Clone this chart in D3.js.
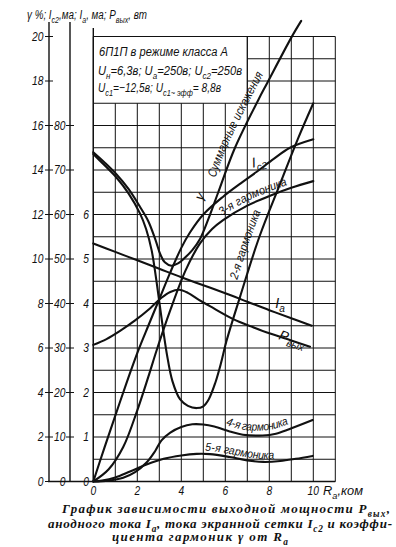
<!DOCTYPE html>
<html><head><meta charset="utf-8">
<script src="https://cdn.jsdelivr.net/npm/d3@7"></script>
<style>
body{margin:0;background:#fff;}
svg{display:block;background:#fff;}
.lab{font-family:"Liberation Sans","DejaVu Sans",sans-serif;font-style:italic;fill:#111;}
.cap{font-family:"Liberation Serif","DejaVu Serif",serif;font-style:italic;font-weight:bold;fill:#111;}
</style></head><body>
<svg id="c" width="396" height="547"></svg>
<script>
// ---------- data ----------
const rTicks = [0, 2, 4, 6, 8, 10];
const gammaTicks = [0, 2, 4, 6, 8, 10, 12, 14, 16, 18, 20];      // γ, %
const iaTicks = [0, 10, 20, 30, 40, 50, 60, 70, 80];             // Iа, ма
const pTicks = [0, 1, 2, 3, 4, 5, 6];                            // Iс2, ма ; Pвых, вт
const gridR = [0,1,2,3,4,5,6,7,8,9,10,11];
const gridG = [0,1,2,3,4,5,6,7,8,9,10,11,12,13,14,15,16,17,18,19,20];

// [Rа (ком), γ %]
const sumDistortion = [[0,14.8],[0.5,14.35],[1.06,13.8],[1.6,13.15],[2.12,12.35],[2.5,11.7],[2.83,10.85],[3.05,10.2],[3.25,9.85],[3.55,9.7],[3.85,9.8],[4.1,10.0],[4.5,10.4],[4.85,10.9],[5.25,11.85],[5.68,13.0],[6.44,15.0],[7.5,17.15],[7.9,17.9],[9.0,19.95],[9.45,20.7]];
const harm2 = [[0,14.72],[0.5,14.22],[1.06,13.65],[1.6,12.95],[2.12,12.05],[2.4,11.35],[2.65,10.4],[2.9,8.8],[3.1,7.35],[3.34,5.75],[3.6,4.5],[3.94,3.7],[4.3,3.4],[4.7,3.3],[5.0,3.38],[5.25,3.7],[5.55,4.45],[5.8,5.3],[6.05,6.3],[6.67,8.3],[7.55,11.0],[8.5,13.4],[9.3,15.4],[10,17.0]];
const harm3 = [[0,0],[0.7,0.55],[1.36,1.55],[2.0,3.2],[2.5,4.7],[2.88,5.9],[3.5,7.7],[4.2,9.5],[4.85,10.7],[5.4,11.35],[5.9,11.75],[7.0,12.4],[8.18,12.9],[9.0,13.2],[10,13.5]];
const harm4 = [[0,0],[0.7,0.04],[1.36,0.17],[1.9,0.42],[2.42,0.85],[2.8,1.35],[3.1,1.85],[3.5,2.2],[4.0,2.45],[4.5,2.57],[5.0,2.56],[5.5,2.47],[6.2,2.25],[6.8,2.1],[7.7,2.07],[8.3,2.15],[8.9,2.35],[9.97,2.76]];
const harm5 = [[0,0],[0.4,0.04],[1.0,0.18],[1.67,0.45],[2.42,0.76],[3.2,1.02],[4.0,1.17],[4.7,1.24],[5.3,1.23],[6.2,1.1],[7.0,0.95],[7.73,0.88],[8.5,0.92],[9.2,1.02],[9.97,1.15]];
// [Rа, Iс2 ма]
const ic2 = [[0,0],[0.5,0.75],[1,1.48],[1.5,2.2],[2.05,2.95],[2.5,3.5],[3,4.1],[3.5,4.7],[4,5.25],[4.4,5.6],[5,6.0],[5.9,6.4],[6.7,6.7],[7.43,6.96],[8.2,7.25],[8.94,7.5],[10,7.69]];
// [Rа, Iа ма]
const ia = [[0,53.5],[1,51.6],[2,49.7],[3,47.8],[4,45.9],[5,44.1],[6,42.3],[7,40.4],[8,38.5],[9,36.7],[9.93,35.0]];
// [Rа, Pвых вт]
const pOut = [[0,3.07],[0.6,3.2],[1.2,3.38],[1.9,3.62],[2.6,3.9],[3.1,4.13],[3.5,4.26],[3.9,4.31],[4.3,4.24],[4.8,4.08],[5.3,3.94],[6.36,3.65],[7.2,3.48],[8,3.33],[9,3.17],[9.85,3.03]];

// ---------- scales ----------
const svg = d3.select("#c");
const x = d3.scaleLinear().domain([0, 11]).range([93.3, 335.3]);
const yG = d3.scaleLinear().domain([0, 20]).range([481.5, 36.5]);
const yIa = d3.scaleLinear().domain([0, 100]).range([481.5, 36.5]);
const yP = d3.scaleLinear().domain([0, 10]).range([481.5, 36.5]);
const INK = "#111";

// ---------- grid ----------
const g = svg.append("g").attr("stroke", INK).attr("stroke-width", 1).attr("fill", "none");
gridR.forEach(r => {
  const top = (r > 0 && r < 7) ? 17 : 20;
  g.append("line").attr("x1", x(r)).attr("x2", x(r)).attr("y1", yG(0)).attr("y2", yG(top));
});
gridG.forEach(v => {
  const left = (v > 17 && v < 20) ? 7 : 0;
  g.append("line").attr("x1", x(left)).attr("x2", x(11)).attr("y1", yG(v)).attr("y2", yG(v));
});
g.append("line").attr("x1", x(7)).attr("x2", x(7)).attr("y1", yG(17)).attr("y2", yG(20));

// ---------- left axes ----------
const ax = svg.append("g").attr("stroke", INK).attr("stroke-width", 1.4);
ax.append("line").attr("x1", 49).attr("x2", 49).attr("y1", 22).attr("y2", yG(0));
ax.append("line").attr("x1", 70).attr("x2", 70).attr("y1", 22).attr("y2", yG(0));
ax.append("line").attr("x1", x(0)).attr("x2", x(0)).attr("y1", 28).attr("y2", yG(0));
ax.append("line").attr("x1", 48).attr("x2", x(11)).attr("y1", yG(0)).attr("y2", yG(0));
gammaTicks.forEach(v => {
  ax.append("line").attr("x1", 45).attr("x2", 53).attr("y1", yG(v)).attr("y2", yG(v)).attr("stroke-width", 1);
});
iaTicks.forEach(v => {
  ax.append("line").attr("x1", 66).attr("x2", 74).attr("y1", yIa(v)).attr("y2", yIa(v)).attr("stroke-width", 1);
});

const lab = svg.append("g").attr("class", "lab");
function condense(t, f) {
  const L = t.node().getComputedTextLength();
  t.attr("textLength", L * f).attr("lengthAdjust", "spacingAndGlyphs");
  return t;
}
function plain(xx, yy, txt, fs, anchor) {
  const t = lab.append("text").attr("x", xx).attr("y", yy).attr("font-size", fs).attr("text-anchor", anchor || "start").text(txt);
  return condense(t, 0.82);
}
gammaTicks.forEach(v => plain(43.5, yG(v) + 4.3, v, 12.5, "end"));
iaTicks.forEach(v => plain(65.5, yIa(v) + 4.3, v, 12.5, "end"));
pTicks.forEach(v => plain(89, yP(v) + 4.3, v, 12.5, "end"));
rTicks.forEach(v => plain(x(v), 495, v, 12.5, "middle"));

// rich text helper (subscripts)
function rich(parent, xx, yy, segs, fs, cls) {
  const t = parent.append("text").attr("x", xx).attr("y", yy).attr("font-size", fs);
  if (cls) t.attr("class", cls);
  let shift = 0;
  segs.forEach(s => {
    const sub = typeof s !== "string";
    const target = sub ? fs * 0.28 : 0;
    const ts = t.append("tspan").attr("font-size", sub ? fs * 0.72 : fs).text(sub ? s.sub : s);
    if (target !== shift) { ts.attr("dy", target - shift); shift = target; }
  });
  return t;
}

rich(lab, 323, 495, ["R", {sub: "а"}, ",ком"], 12.5).attr("textLength", 40).attr("lengthAdjust", "spacingAndGlyphs");
rich(lab, 27, 19, ["γ %; I", {sub: "с2"}, ",ма; I", {sub: "а"}, ", ма; P", {sub: "вых"}, ", вт"], 12.5).attr("textLength", 120).attr("lengthAdjust", "spacingAndGlyphs");

// legend text
rich(lab, 99, 56, ["6П1П в режиме класса А"], 12.5).attr("textLength", 129).attr("lengthAdjust", "spacingAndGlyphs");
rich(lab, 98, 75, ["U", {sub: "н"}, "=6,3в; U", {sub: "а"}, "=250в; U", {sub: "с2"}, "=250в"], 12.5).attr("textLength", 144).attr("lengthAdjust", "spacingAndGlyphs");
rich(lab, 98, 92, ["U", {sub: "с1"}, "=−12,5в; U", {sub: "с1~ эфф"}, "= 8,8в"], 12.5).attr("textLength", 123).attr("lengthAdjust", "spacingAndGlyphs");

// ---------- curves ----------
const lineG = d3.line().x(d => x(d[0])).y(d => yG(d[1])).curve(d3.curveCatmullRom.alpha(0.5));
const lineIa = d3.line().x(d => x(d[0])).y(d => yIa(d[1])).curve(d3.curveCatmullRom.alpha(0.5));
const lineP = d3.line().x(d => x(d[0])).y(d => yP(d[1])).curve(d3.curveCatmullRom.alpha(0.5));
const cg = svg.append("g").attr("fill", "none").attr("stroke", INK).attr("stroke-width", 2.1).attr("stroke-linecap", "round");
const series = [
  ["pSum", sumDistortion, lineG], ["pH2", harm2, lineG], ["pH3", harm3, lineG],
  ["pH4", harm4, lineG], ["pH5", harm5, lineG], ["pIc2", ic2, lineP],
  ["pIa", ia, lineIa], ["pP", pOut, lineP]
];
series.forEach(([id, d, ln]) => cg.append("path").attr("id", id).attr("d", ln(d)));

function offAtX(id, xt) {
  const n = document.getElementById(id);
  let lo = 0, hi = n.getTotalLength();
  for (let i = 0; i < 40; i++) { const m = (lo + hi) / 2; if (n.getPointAtLength(m).x < xt) lo = m; else hi = m; }
  return lo;
}
function onPath(id, xs, txt, fs, dy, len, tx, ty) {
  const t = lab.append("text").attr("font-size", fs).attr("dy", dy)
    .attr("transform", `translate(${tx || 0},${ty || 0})`);
  t.append("textPath").attr("href", "#" + id).attr("startOffset", offAtX(id, xs))
    .attr("textLength", len).attr("lengthAdjust", "spacingAndGlyphs").attr("font-size", fs).text(txt);
}
onPath("pSum", 223, "Суммарные искажения", 12.5, -3, 114, -5, 0);
onPath("pH3", 224, "3-я гармоника", 12, -4, 72);
onPath("pH2", 245, "2-я гармоника", 12, -3, 72, -5, 0);
onPath("pH4", 224, "4-я гармоника", 11.5, -5, 68);
onPath("pH5", 205, "5-я гармоника", 11.5, -3, 70);

lab.append("text").attr("x", x(4.95)).attr("y", yG(12.6)).attr("font-size", 13)
  .attr("transform", `rotate(-65 ${x(4.95)} ${yG(12.6)})`).text("γ");
rich(lab, 0, 0, ["I", {sub: "с2"}], 14).attr("transform", `translate(${x(7.25)},${yG(14.1)}) rotate(-12)`);
rich(lab, x(8.27), yG(7.8), ["I", {sub: "а"}], 14);
rich(lab, 0, 0, ["P", {sub: "вых"}], 14).attr("transform", `translate(${x(8.4)},${yG(6.4)}) rotate(18)`);

// ---------- caption ----------
const cap = svg.append("g");
rich(cap, 62, 513, ["График зависимости выходной мощности P", {sub: "вых"}, ","], 13, "cap").attr("textLength", 328).attr("lengthAdjust", "spacing");
rich(cap, 48, 528, ["анодного тока I", {sub: "а"}, ", тока экранной сетки I", {sub: "с2"}, " и коэффи-"], 13, "cap").attr("textLength", 344).attr("lengthAdjust", "spacing");
rich(cap, 112, 541, ["циента гармоник γ от R", {sub: "а"}], 13, "cap").attr("textLength", 176).attr("lengthAdjust", "spacing");
</script>
</body></html>
